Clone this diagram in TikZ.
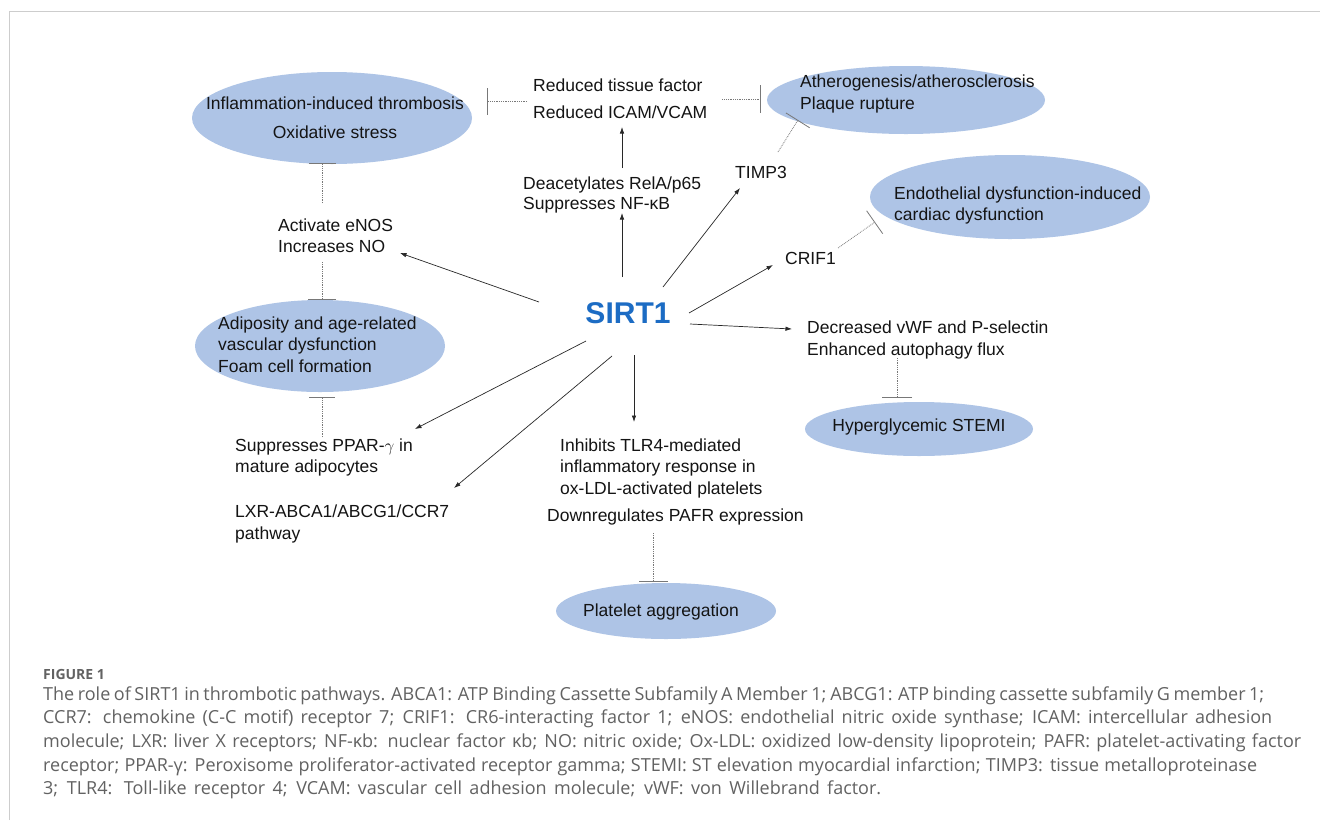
\documentclass[tikz,border=0pt]{standalone}
\usepackage{fontspec}
\setmainfont{Liberation Sans}
\newfontfamily\capfont{Open Sans}
\usetikzlibrary{arrows.meta,shapes.geometric,calc}
\definecolor{ellfill}{RGB}{174,196,230}
\definecolor{sirtblue}{RGB}{28,108,196}
\definecolor{capgray}{RGB}{98,98,98}
\definecolor{framegray}{RGB}{205,205,205}
\definecolor{inhgray}{RGB}{120,120,120}
\definecolor{arrgray}{RGB}{40,40,40}
\newcommand{\capline}[2]{\hbox to #1{#2}}
\begin{document}
\begin{tikzpicture}[x=1pt,y=-1pt,
  lbl/.style={inner sep=0pt, anchor=west, align=left, text=black!92, font=\fontsize{17.5}{21.5}\selectfont},
  ell/.style={ellipse, fill=ellfill, inner sep=0pt},
  arr/.style={draw=arrgray, line width=0.7pt, -{Latex[length=6.5pt,width=4.5pt]}},
  inh/.style={draw=inhgray, line width=0.8pt, densely dotted, -{Bar[width=#1,line width=0.8pt]}},
  inh/.default=28pt,
  captxt/.style={inner sep=0pt, anchor=base west, text=capgray, font=\capfont\fontsize{18}{22}\selectfont}
]
\useasboundingbox (0,0) rectangle (1320,820);
\fill[white] (0,0) rectangle (1320,820);
\draw[framegray, line width=1.5pt] (9.5,820) -- (9.5,11.5) -- (1320,11.5);

% ellipses
\node[ell, minimum width=280pt, minimum height=92pt] (eInf) at (332,118) {};
\node[ell, minimum width=278pt, minimum height=68pt] (eAth) at (906,100) {};
\node[ell, minimum width=280pt, minimum height=84pt] (eEnd) at (1010,197) {};
\node[ell, minimum width=250pt, minimum height=92pt] (eAdi) at (320,346) {};
\node[ell, minimum width=228pt, minimum height=54pt] (eHyp) at (919,429) {};
\node[ell, minimum width=220pt, minimum height=56pt] (ePla) at (666,611) {};

% ellipse texts
\node[lbl, anchor=center, align=center, font=\fontsize{17.5}{29}\selectfont] (tInf) at (335,117.5) {Inflammation-induced thrombosis\\Oxidative stress};
\node[lbl, font=\fontsize{17.5}{22}\selectfont] (tAth) at (800,94) {Atherogenesis/atherosclerosis\\Plaque rupture};
\node[lbl, font=\fontsize{17.5}{21}\selectfont] (tEnd) at (894,205.5) {Endothelial dysfunction-induced\\cardiac dysfunction};
\node[lbl] (tAdi) at (218,344.5) {Adiposity and age-related\\vascular dysfunction\\Foam cell formation};
\node[lbl, anchor=center] (tHyp) at (919,427) {Hyperglycemic STEMI};
\node[lbl, anchor=center] (tPla) at (661,612) {Platelet aggregation};

% centre
\node[inner sep=0pt, text=sirtblue, font=\bfseries\fontsize{30}{36}\selectfont] (sirt) at (628,313) {SIRT1};

% labels
\node[lbl, font=\fontsize{17.5}{27}\selectfont] (tRed) at (533,98.5) {Reduced tissue factor\\Reduced ICAM/VCAM};
\node[lbl, font=\fontsize{17.5}{20.5}\selectfont] (tDea) at (523,195) {Deacetylates RelA/p65\\Suppresses NF-κB};
\node[lbl] (tTimp) at (735,172) {TIMP3};
\node[lbl] (tAct) at (278,235.5) {Activate eNOS\\Increases NO};
\node[lbl] (tCrif) at (785,258) {CRIF1};
\node[lbl] (tDec) at (807,340) {Decreased vWF and P-selectin\\Enhanced autophagy flux};
\node[lbl] (tPpar) at (235,457.5) {Suppresses PPAR-$\gamma$ in\\mature adipocytes};
\node[lbl] (tLxr) at (235,524) {LXR-ABCA1/ABCG1/CCR7\\pathway};
\node[lbl] (tInh) at (560,468) {Inhibits TLR4-mediated\\inflammatory response in\\ox-LDL-activated platelets};
\node[lbl] (tDown) at (547,517) {Downregulates PAFR expression};

% activating arrows
\draw[arr] ([shift={(-89,-11)}]sirt.center) -- ([shift={(122,17.5)}]tAct.west);
\draw[arr] ([shift={(99,-27)}]tDea.west) -- ([shift={(89,28.5)}]tRed.west);
\draw[arr] ([shift={(-6,-36)}]sirt.center) -- ([shift={(99,18)}]tDea.west);
\draw[arr] ([shift={(35,-26)}]sirt.center) -- ([shift={(5,16)}]tTimp.west);
\draw[arr] ([shift={(61,0)}]sirt.center) -- ([shift={(-12,7)}]tCrif.west);
\draw[arr] ([shift={(62,11)}]sirt.center) -- ([shift={(-15,-11)}]tDec.west);
\draw[arr] ([shift={(6,42)}]sirt.center) -- ([shift={(74,-46)}]tInh.west);
\draw[arr] ([shift={(-42,28)}]sirt.center) -- ([shift={(180,-28.5)}]tPpar.west);
\draw[arr] ([shift={(-16,43)}]sirt.center) -- ([shift={(219,-36)}]tLxr.west);

% inhibitions
\draw[inh=27pt] ([shift={(-6,2.5)}]tRed.west) -- ([shift={(15,-17)}]eInf.east);
\draw[inh=28pt] ([shift={(15,0.5)}]tRed.east) -- ([shift={(-6,-1)}]eAth.west);
\draw[inh=28pt] ([shift={(43,-20)}]tTimp.west) -- ([shift={(-108,20)}]eAth.center);
\draw[inh=28pt] ([shift={(53,-10)}]tCrif.west) -- ([shift={(-135,25)}]eEnd.center);
\draw[inh=30pt] ([shift={(90,18)}]tDec.west) -- ([shift={(-22,-4)}]eHyp.north);
\draw[inh=29pt] ([shift={(106,16)}]tDown.west) -- ([shift={(-13,-1)}]ePla.north);
\draw[inh=27pt] ([shift={(44,-32.5)}]tAct.west) -- ([shift={(-10,-1)}]eInf.south);
\draw[inh=28pt] ([shift={(44,26.5)}]tAct.west) -- ([shift={(2,0)}]eAdi.north);
\draw[inh=26pt] ([shift={(87,-20.5)}]tPpar.west) -- ([shift={(2,5)}]eAdi.south);

% caption
\node[captxt, font=\capfont\bfseries\fontsize{14}{16}\selectfont] (fig) at (43,679) {FIGURE 1};
\node[captxt] (c1) at (43,700) {\capline{1221pt}{The role of SIRT1 in thrombotic pathways. ABCA1: ATP Binding Cassette Subfamily A Member 1; ABCG1: ATP binding cassette subfamily G member 1;}};
\node[captxt] (c2) at (43,723.7) {\capline{1229pt}{CCR7: chemokine (C-C motif) receptor 7; CRIF1: CR6-interacting factor 1; eNOS: endothelial nitric oxide synthase; ICAM: intercellular adhesion}};
\node[captxt] (c3) at (43,747.3) {\capline{1258pt}{molecule; LXR: liver X receptors; NF-κb: nuclear factor κb; NO: nitric oxide; Ox-LDL: oxidized low-density lipoprotein; PAFR: platelet-activating factor}};
\node[captxt] (c4) at (43,771) {\capline{1214pt}{receptor; PPAR-γ: Peroxisome proliferator-activated receptor gamma; STEMI: ST elevation myocardial infarction; TIMP3: tissue metalloproteinase}};
\node[captxt] (c5) at (43,794.6) {\capline{838pt}{3; TLR4: Toll-like receptor 4; VCAM: vascular cell adhesion molecule; vWF: von Willebrand factor.}};
\end{tikzpicture}
\end{document}
